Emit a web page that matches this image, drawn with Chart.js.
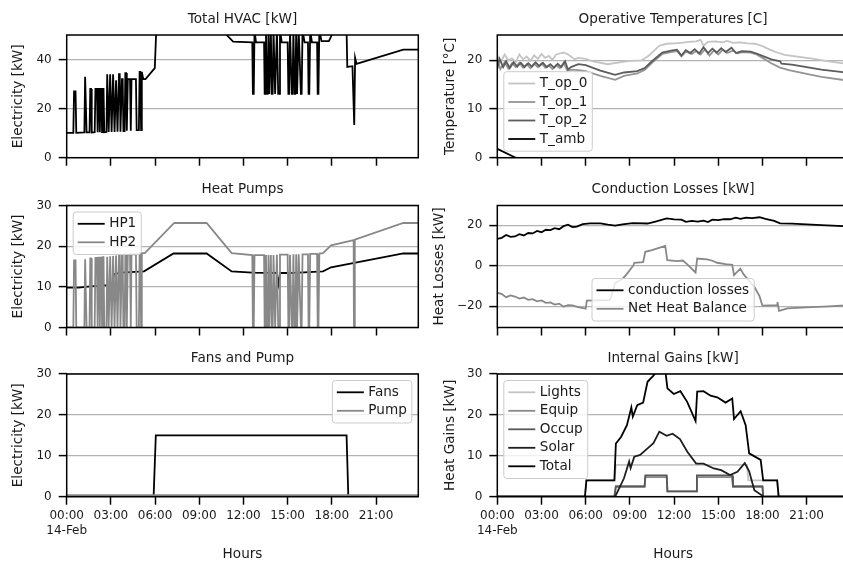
<!DOCTYPE html>
<html>
<head>
<meta charset="utf-8">
<script src="https://cdn.jsdelivr.net/npm/chart.js@4.4.1/dist/chart.umd.min.js"></script>
<style>
html, body { margin: 0; padding: 0; background: #fff; overflow: hidden; width: 843px; height: 563px; }
canvas { position: absolute; left: 0; top: 0; }
</style>
</head>
<body>
<canvas id="hvac"></canvas>
<canvas id="temps"></canvas>
<canvas id="pumps"></canvas>
<canvas id="cond"></canvas>
<canvas id="fans"></canvas>
<canvas id="gains"></canvas>
<script>
// x axis: hours of 14-Feb
var hourTicks = [0, 3, 6, 9, 12, 15, 18, 21];
var hourLabels = ['00:00', '03:00', '06:00', '09:00', '12:00', '15:00', '18:00', '21:00'];
var dayLabel = '14-Feb';
var lastHour = 23.87;

// Total HVAC [kW]  ([hour, value])
var hvac = [
  [0,10.1],[0.45,10.1],[0.5,27],[0.6,27],[0.65,10.1],
  [1.2,10.3],[1.25,33],[1.3,33],[1.35,10.3],
  [1.55,10.3],[1.6,28],[1.65,28],[1.7,10.3],
  [1.9,10.4],[1.95,28],[2.05,28],[2.1,10.4],[2.15,28],[2.2,28],[2.25,10.4],[2.3,28],[2.35,28],[2.4,10.4],[2.45,28],[2.5,28],[2.55,10.4],
  [2.7,10.5],[2.75,34],[2.8,34],[2.85,10.5],[2.95,34],[3.0,34],[3.05,10.5],[3.15,34],[3.2,34],[3.25,10.5],[3.35,31.5],[3.4,31.5],[3.45,10.6],[3.55,34],[3.6,34],[3.65,10.6],[3.75,32],[3.8,32],[3.85,10.8],
  [3.93,10.8],[3.98,34.5],[4.03,34.5],[4.08,11],[4.15,32],[4.3,32],[4.35,11],[4.4,32],[4.7,32],[4.75,11.2],[4.9,11.2],[4.95,35],[5.0,35],[5.05,11.2],[5.1,35],[5.2,32],[5.35,32],[5.98,36.5],[6.08,52],
  [10.7,52],[10.86,50],[11.3,47.3],[12.6,47],
  [12.64,26],[12.7,26],[12.75,52],[12.85,47],[13.4,47],[13.44,26],[13.48,26],[13.53,52],[13.58,26],[13.64,26],[13.7,52],[13.75,26],[13.8,26],[13.86,52],[13.92,26],[13.98,26],[14.04,52],[14.15,26],[14.2,26],[14.27,52],[14.36,26],[14.42,26],[14.48,52],[14.6,47],[15.0,47],
  [15.05,26],[15.1,26],[15.16,52],[15.28,26],[15.33,26],[15.39,52],[15.47,26],[15.52,26],[15.58,52],[15.64,26],[15.69,26],[15.75,52],[15.9,26],[15.95,26],[16.01,52],[16.15,47],[16.38,47],[16.42,26],[16.47,26],[16.53,52],[16.65,47],[17.0,47],[17.04,26],[17.09,26],[17.15,52],[17.3,47.5],[17.8,47.5],[18.0,50],[18.1,52],
  [19.0,52],[19.05,37],[19.4,37.3],[19.52,13.3],[19.58,40.7],[19.68,38.2],[22.85,44],[lastHour,44]
];

// Heat pumps [kW]
var hp1 = [
  [0,9.8],[0.8,9.8],[1.6,10.1],[2.5,10.3],[3.1,10.6],[3.2,13.1],[3.7,13.5],[5.25,13.8],[7.25,18.2],[9.5,18.2],[11.2,13.8],[12.6,13.5],
  [14.25,13.4],[14.38,10.7],[14.48,13.4],[15.0,13.4],[15.08,10.7],[15.16,13.4],[17.4,13.8],[17.95,14.8],[22.85,18.2],[lastHour,18.2]
];
var hp2 = [
  [0,0],[0.45,0],[0.5,16.5],[0.6,16.5],[0.65,0],
  [1.2,0],[1.25,16.8],[1.3,16.8],[1.35,0],
  [1.55,0],[1.6,17],[1.65,17],[1.7,0],
  [1.9,0],[1.95,17.1],[2.05,17.1],[2.1,0],[2.15,17.2],[2.2,17.2],[2.25,0],[2.3,17.2],[2.35,17.2],[2.4,0],[2.45,17.3],[2.5,17.3],[2.55,0],
  [2.7,0],[2.75,17.4],[2.8,17.4],[2.85,0],[2.95,17.5],[3.0,17.5],[3.05,0],[3.15,17.6],[3.2,17.6],[3.25,0],[3.35,17.7],[3.4,17.7],[3.45,0],[3.55,17.7],[3.6,17.7],[3.65,0],[3.75,17.8],[3.8,17.8],[3.85,0],
  [3.93,0],[3.98,17.9],[4.03,17.9],[4.08,0],[4.15,18],[4.3,18],[4.35,0],[4.4,18],[4.7,18],[4.75,0],[4.9,0],[4.95,18.2],[5.0,18.2],[5.05,0],[5.1,18.3],[5.3,18.3],
  [7.3,25.7],[9.5,25.7],[11.2,18.3],[12.6,17.8],
  [12.64,0],[12.7,0],[12.75,17.8],[13.4,17.8],[13.44,0],[13.48,0],[13.53,17.8],[13.58,0],[13.64,0],[13.7,17.8],[13.75,0],[13.8,0],[13.86,17.8],[13.92,0],[13.98,0],[14.04,17.8],[14.15,0],[14.2,0],[14.27,17.9],[14.36,0],[14.42,0],[14.48,17.9],[15.0,17.9],
  [15.05,0],[15.1,0],[15.16,17.9],[15.28,0],[15.33,0],[15.39,18],[15.47,0],[15.52,0],[15.58,18],[15.64,0],[15.69,0],[15.75,18],[15.9,0],[15.95,0],[16.01,18],[16.38,18],[16.42,0],[16.47,0],[16.53,18.1],[17.0,18.1],[17.04,0],[17.09,0],[17.15,18.2],[17.4,18.3],[17.95,20.2],
  [19.48,21.5],[19.5,0],[19.54,0],[19.56,21.6],[22.85,25.7],[lastHour,25.7]
];

// Fans and pump [kW]
var fans = [[0,0],[5.9,0],[6.05,15],[19.0,15],[19.12,0],[lastHour,0]];
var pump = [[0,0.35],[lastHour,0.35]];

// Operative temperatures [C]
var tOp0 = [
  [0,21],[0.25,19.8],[0.5,21.2],[0.75,20],[1,20.4],[1.25,19.6],[1.5,21.2],[1.75,20.2],[2,20.8],[2.25,19.9],[2.5,21],[2.75,20.3],[3,21.3],[3.25,20.5],[3.5,20.9],[3.75,20.1],
  [4,21.2],[4.25,21.4],[4.5,21.6],[4.75,21.3],[5,20.8],[5.25,20.2],[5.5,20.5],[6,20.3],[6.5,19.8],[7.5,19.2],[8.3,19.6],[9,19.9],[9.8,20],[10.3,21],[11,23],
  [11.5,23.4],[12,23.5],[12.5,23.6],[13,23.8],[13.5,23.9],[13.8,24.2],[14,23],[14.3,23.8],[14.8,23.9],[15.3,23.7],[15.6,24],[16,23.6],[16.5,23.7],[17,23.5],[17.5,23.4],
  [18,22.9],[18.5,22.2],[19,21.6],[19.5,21.1],[20.5,20.7],[21.5,20.3],[22.5,19.8],[lastHour,19.2]
];
var tOp1 = [
  [0,20.3],[0.2,18.2],[0.5,19.6],[0.75,18.3],[1,19.4],[1.25,18.6],[1.5,19.5],[1.75,18.5],[2,19.2],[2.25,18.4],[2.5,19.3],[2.75,18.6],[3,19.4],[3.25,18.5],[3.5,18.9],[3.75,18.2],
  [4,19],[4.25,18.4],[4.5,19.5],[4.75,17.9],[5,18.1],[5.5,18],[6,17.8],[7,16.8],[8,16],[8.6,16.8],[9.5,17.3],[10,18],[10.5,19.5],[11.2,21.3],[11.8,21.7],[12.2,21.9],
  [12.5,20.8],[12.8,21.8],[13.2,21.3],[13.5,21.9],[13.8,21.2],[14.1,22.3],[14.4,21],[14.7,22],[15,21.2],[15.3,22.2],[15.6,21.5],[16,22],[16.3,21.4],[16.6,21.7],[17.2,21.6],
  [17.6,21.2],[18,20.5],[18.6,19.4],[19.2,18.5],[19.8,18],[21,17.2],[22,16.6],[lastHour,15.8]
];
var tOp2 = [
  [0,18.3],[0.15,20.3],[0.4,18.6],[0.6,19.8],[0.85,18.4],[1.1,19.6],[1.35,18.7],[1.6,19.5],[1.85,18.6],[2.1,19.4],[2.35,18.7],[2.6,19.6],[2.85,18.8],[3.1,19.5],[3.35,18.6],
  [3.6,19.2],[3.85,18.5],[4.1,19.3],[4.35,18.6],[4.6,19.8],[4.8,18.1],[5,18.6],[5.5,19.2],[6,19],[7,17.9],[8,17],[8.6,17.5],[9.5,17.8],[10,18.4],[10.5,19.8],[11.2,21.6],
  [11.8,22],[12.2,22.2],[12.5,21],[12.8,22.1],[13.1,21.5],[13.4,22.3],[13.7,21.4],[14,22.7],[14.3,21.5],[14.6,22.4],[14.9,21.6],[15.2,22.5],[15.5,21.7],[15.9,22.6],[16.2,21.5],
  [16.6,21.9],[17.2,21.8],[17.6,21.4],[18,20.9],[18.6,20.2],[19.2,19.8],[19.3,19.3],[20,19.1],[21,18.6],[22,18.1],[lastHour,17.4]
];
var tAmb = [[0,1.8],[1.25,0],[3,-1.5],[6,-2.5],[12,-1],[18,-1.5],[lastHour,-3]];

// Conduction losses / net heat balance [kW]
var condLoss = [
  [0,13.3],[0.3,13.8],[0.6,15.2],[0.9,14.3],[1.2,14.5],[1.5,15.6],[1.8,15],[2.1,16.2],[2.4,16],[2.7,17.2],[3.0,16.6],[3.3,17.8],[3.6,17.6],[3.9,18.6],[4.2,18.1],[4.5,19.6],
  [4.8,20.3],[5.1,19.1],[5.4,19.4],[5.8,20.6],[6.3,21],[7.0,21],[7.5,20.4],[8.0,19.9],[8.5,20.5],[9.2,21.1],[10.2,20.9],[10.8,22],[11.5,23.4],[12.0,22.9],[12.5,22.8],
  [12.8,21.7],[13.2,22.2],[13.6,21.8],[14.0,22.3],[14.3,21.6],[14.6,22.8],[15.0,22.6],[15.4,23.1],[15.8,23],[16.2,23.8],[16.5,23.2],[16.9,23.8],[17.3,23.6],[17.8,24],
  [18.2,23.2],[18.8,22.2],[19.2,21],[20,20.8],[21,20.5],[22,20.1],[lastHour,19.5]
];
var netHeat = [
  [0,-13.3],[0.3,-14],[0.6,-15.5],[0.9,-14.6],[1.2,-15.2],[1.5,-16.2],[1.8,-15.7],[2.1,-16.8],[2.4,-16.5],[2.7,-17.6],[3.0,-17.1],[3.3,-18.3],[3.6,-18.1],[3.9,-19.2],
  [4.2,-18.7],[4.5,-20.2],[4.8,-19.5],[5.1,-19.6],[5.5,-20.4],[6.0,-21.2],[6.08,-17.2],[7.6,-17],[7.7,-16],[8.0,-8.5],[8.5,-6.5],[8.8,-4],[9.25,0.3],[9.3,1.5],[9.9,1.8],
  [10.05,6.9],[10.5,7.8],[11.4,9.8],[11.54,2.8],[12.2,2.3],[12.6,2.6],[12.9,0.7],[13.46,-3.3],[13.57,3.6],[14.25,3.2],[14.6,2.5],[14.93,1.5],[15.5,0.8],[15.95,0.5],
  [16.07,-4.6],[16.5,-1.4],[16.7,-4],[17.1,-7.5],[17.5,-11],[17.8,-15],[18.0,-19.7],[19.0,-19.5],[19.02,-17.9],[19.13,-22.3],[19.7,-21],[21,-20.6],[22.5,-20.1],[lastHour,-19.5]
];

// Internal gains [kW]
var lights = [[0,0],[5.95,0],[6.05,4],[7.95,4],[8.05,7.8],[16.95,7.8],[17.05,4],[19.0,4],[19.1,0],[lastHour,0]];
var equip = [[0,0],[7.95,0],[8.05,2.5],[10.0,2.5],[10.05,4.8],[11.5,4.8],[11.55,1.3],[13.5,1.3],[13.55,4.8],[15.95,4.8],[16.0,2.5],[18.0,2.5],[18.05,0],[lastHour,0]];
var occup = [[0,0],[7.95,0],[8.05,2.5],[10.0,2.5],[10.05,5.2],[11.5,5.2],[11.55,1.3],[13.5,1.3],[13.55,5.2],[15.95,5.2],[16.0,2.5],[18.0,2.5],[18.05,0],[lastHour,0]];
var solar = [
  [0,0],[8.0,0],[8.6,4.5],[8.95,8.6],[9.05,7],[9.3,9.8],[9.7,10.2],[10.2,11.8],[10.6,13.1],[11.0,15.9],[11.5,14.9],[11.9,15.4],[12.4,14.1],[12.9,11],[13.5,8.1],
  [14.0,8.1],[14.7,6.9],[15.2,6.5],[15.8,5.3],[16.3,6.1],[16.8,8.2],[17.1,6.2],[17.45,1.6],[18.1,0],[lastHour,0]
];
var total = [
  [0,0],[5.95,0],[6.05,4],[7.95,4],[8.05,13],[8.4,14.6],[8.8,17.5],[9.1,21.8],[9.2,19.6],[9.5,22.4],[9.9,23],[10.2,28.1],[10.6,29.6],[11,31.5],[11.4,31],[11.55,26.5],
  [11.98,25.1],[12.43,25.8],[12.89,23.2],[13.46,18.5],[13.57,25.7],[14.0,25.8],[14.48,24.7],[14.93,24.3],[15.5,23],[15.95,24],[16.07,19],[16.52,20.9],[16.86,17.5],
  [17.1,10.6],[17.88,9],[18.05,4],[19.0,4],[19.1,0],[lastHour,0]
];

Chart.defaults.font.family = "'DejaVu Sans', sans-serif";
Chart.defaults.color = '#1a1a1a';

var labelSize = 13.6;
var tickSize = 12;

// box round the axes (matplotlib spines)
var frame = {
  id: 'frame',
  afterDatasetsDraw: function (chart) {
    var ctx = chart.ctx, a = chart.chartArea;
    ctx.save();
    ctx.strokeStyle = '#000';
    ctx.lineWidth = 1.5;
    ctx.strokeRect(a.left, a.top, a.right - a.left, a.bottom - a.top);
    ctx.restore();
  }
};

// framed legend placed inside the axes
var boxLegend = {
  id: 'boxLegend',
  afterDatasetsDraw: function (chart, args, opts) {
    if (!opts.loc) return;
    var ctx = chart.ctx, a = chart.chartArea, sets = chart.data.datasets;
    ctx.save();
    ctx.font = labelSize + "px 'DejaVu Sans'";
    var tw = 0;
    sets.forEach(function (d) { tw = Math.max(tw, ctx.measureText(d.label).width); });
    var w = 36 + tw + 5, h = (sets.length - 1) * 18.5 + 24, gap = 6.5;
    var x = opts.loc.indexOf('left') >= 0 ? a.left + gap :
            opts.loc.indexOf('right') >= 0 ? a.right - gap - w : (a.left + a.right - w) / 2;
    var y = opts.loc.indexOf('upper') >= 0 ? a.top + gap : a.bottom - gap - h;
    var r = 3;
    ctx.beginPath();
    ctx.moveTo(x + r, y);
    ctx.arcTo(x + w, y, x + w, y + h, r);
    ctx.arcTo(x + w, y + h, x, y + h, r);
    ctx.arcTo(x, y + h, x, y, r);
    ctx.arcTo(x, y, x + w, y, r);
    ctx.closePath();
    ctx.fillStyle = 'rgba(255,255,255,0.8)';
    ctx.fill();
    ctx.strokeStyle = '#cccccc';
    ctx.lineWidth = 1;
    ctx.stroke();
    sets.forEach(function (d, i) {
      var cy = y + 11.8 + i * 18.5;
      ctx.beginPath();
      ctx.moveTo(x + 4.5, cy);
      ctx.lineTo(x + 31.5, cy);
      ctx.strokeStyle = d.borderColor;
      ctx.lineWidth = 1.8;
      ctx.stroke();
      ctx.fillStyle = '#1a1a1a';
      ctx.textBaseline = 'middle';
      ctx.fillText(d.label, x + 36, cy);
    });
    ctx.restore();
  }
};

function fmtY(v) { return v < 0 ? '\u2212' + (-v) : String(v); }

function panel(id, p) {
  var W = p.wide ? 870 : 843, H = 563;
  var cv = document.getElementById(id);
  cv.width = W; cv.height = H;
  cv.style.width = W + 'px'; cv.style.height = H + 'px';
  var a = p.area;
  var lh = labelSize * 1.2;
  var titleH = lh + 16 - lh / 2;
  var padLeft = p.yTitleX - lh / 2;
  var xH = p.bottomRow ? H - a.b : 20;
  return new Chart(cv, {
    type: 'line',
    data: {
      datasets: p.series.map(function (s, i) {
        return { label: s.label, data: s.data, borderColor: s.color, borderWidth: 1.8,
                 pointRadius: 0, fill: false, tension: 0, order: -i };
      })
    },
    plugins: [frame, boxLegend],
    options: {
      responsive: false, animation: false, devicePixelRatio: 1, events: [],
      layout: { padding: { left: padLeft, top: a.t - titleH, right: W - a.r, bottom: H - a.b - xH } },
      plugins: {
        legend: { display: false },
        tooltip: { enabled: false },
        title: { display: true, text: p.title, fullSize: false, color: '#1a1a1a',
                 font: { size: labelSize, weight: 'normal' }, padding: { top: 0, bottom: 16 - lh / 2 } },
        boxLegend: { loc: p.loc }
      },
      scales: {
        x: {
          type: 'linear', min: 0, max: lastHour,
          afterBuildTicks: function (s) { s.ticks = hourTicks.map(function (v) { return { value: v }; }); },
          afterFit: function (s) { s.height = xH; },
          grid: { drawOnChartArea: false, drawTicks: true, tickLength: 8, tickColor: '#000', tickWidth: 1.5 },
          border: { display: false },
          ticks: {
            display: !!p.bottomRow, autoSkip: false, maxRotation: 0, padding: 4,
            font: { size: tickSize, lineHeight: 1.25 },
            callback: function (v) {
              var k = hourTicks.indexOf(v);
              return k === 0 ? [hourLabels[0], dayLabel] : hourLabels[k];
            }
          },
          title: { display: !!p.bottomRow, text: 'Hours', font: { size: labelSize }, padding: { top: 0, bottom: 0.5 } }
        },
        y: {
          min: p.yMin, max: p.yMax,
          afterBuildTicks: function (s) { s.ticks = p.yTicks.map(function (v) { return { value: v }; }); },
          afterFit: function (s) { s.width = a.l - padLeft; },
          grid: { color: '#b3b3b3', lineWidth: 1.2, tickLength: 8, tickColor: '#000', tickWidth: 1.5 },
          border: { display: false },
          ticks: { padding: 7, font: { size: tickSize }, callback: fmtY },
          title: { display: true, text: p.yTitle, font: { size: labelSize }, padding: { top: 0, bottom: 0 } }
        }
      }
    }
  });
}

var leftCol = { l: 66.7, r: 418.3 };
var rightCol = { l: 497.3, r: 848.9 };
var rows = [{ t: 35, b: 157.7 }, { t: 205.5, b: 327.5 }, { t: 374, b: 496.7 }];
function area(c, r) { return { l: c.l, r: c.r, t: r.t, b: r.b }; }

panel('hvac', {
  title: 'Total HVAC [kW]', yTitle: 'Electricity [kW]', yTitleX: 18.8,
  area: area(leftCol, rows[0]), yMin: 0, yMax: 50, yTicks: [0, 20, 40],
  series: [{ label: 'Total HVAC', data: hvac, color: '#000' }]
});
panel('temps', {
  title: 'Operative Temperatures [C]', yTitle: 'Temperature [\u00b0C]', yTitleX: 450.8, wide: true,
  area: area(rightCol, rows[0]), yMin: 0, yMax: 25.2, yTicks: [0, 10, 20], loc: 'lower left',
  series: [
    { label: 'T_op_0', data: tOp0, color: '#c4c4c4' },
    { label: 'T_op_1', data: tOp1, color: '#959595' },
    { label: 'T_op_2', data: tOp2, color: '#5c5c5c' },
    { label: 'T_amb', data: tAmb, color: '#000' }
  ]
});
panel('pumps', {
  title: 'Heat Pumps', yTitle: 'Electricity [kW]', yTitleX: 18.8,
  area: area(leftCol, rows[1]), yMin: 0, yMax: 30, yTicks: [0, 10, 20, 30], loc: 'upper left',
  series: [
    { label: 'HP1', data: hp1, color: '#000' },
    { label: 'HP2', data: hp2, color: '#888888' }
  ]
});
panel('cond', {
  title: 'Conduction Losses [kW]', yTitle: 'Heat Losses [kW]', yTitleX: 439.2, wide: true,
  area: area(rightCol, rows[1]), yMin: -30.5, yMax: 29.8, yTicks: [-20, 0, 20], loc: 'lower center',
  series: [
    { label: 'conduction losses', data: condLoss, color: '#000' },
    { label: 'Net Heat Balance', data: netHeat, color: '#888888' }
  ]
});
panel('fans', {
  title: 'Fans and Pump', yTitle: 'Electricity [kW]', yTitleX: 18.8, bottomRow: true,
  area: area(leftCol, rows[2]), yMin: 0, yMax: 30, yTicks: [0, 10, 20, 30], loc: 'upper right',
  series: [
    { label: 'Fans', data: fans, color: '#000' },
    { label: 'Pump', data: pump, color: '#888888' }
  ]
});
panel('gains', {
  title: 'Internal Gains [kW]', yTitle: 'Heat Gains [kW]', yTitleX: 450.8, wide: true, bottomRow: true,
  area: area(rightCol, rows[2]), yMin: 0, yMax: 30, yTicks: [0, 10, 20, 30], loc: 'upper left',
  series: [
    { label: 'Lights', data: lights, color: '#c4c4c4' },
    { label: 'Equip', data: equip, color: '#8a8a8a' },
    { label: 'Occup', data: occup, color: '#585858' },
    { label: 'Solar', data: solar, color: '#1e1e1e' },
    { label: 'Total', data: total, color: '#000' }
  ]
});
</script>
</body>
</html>
